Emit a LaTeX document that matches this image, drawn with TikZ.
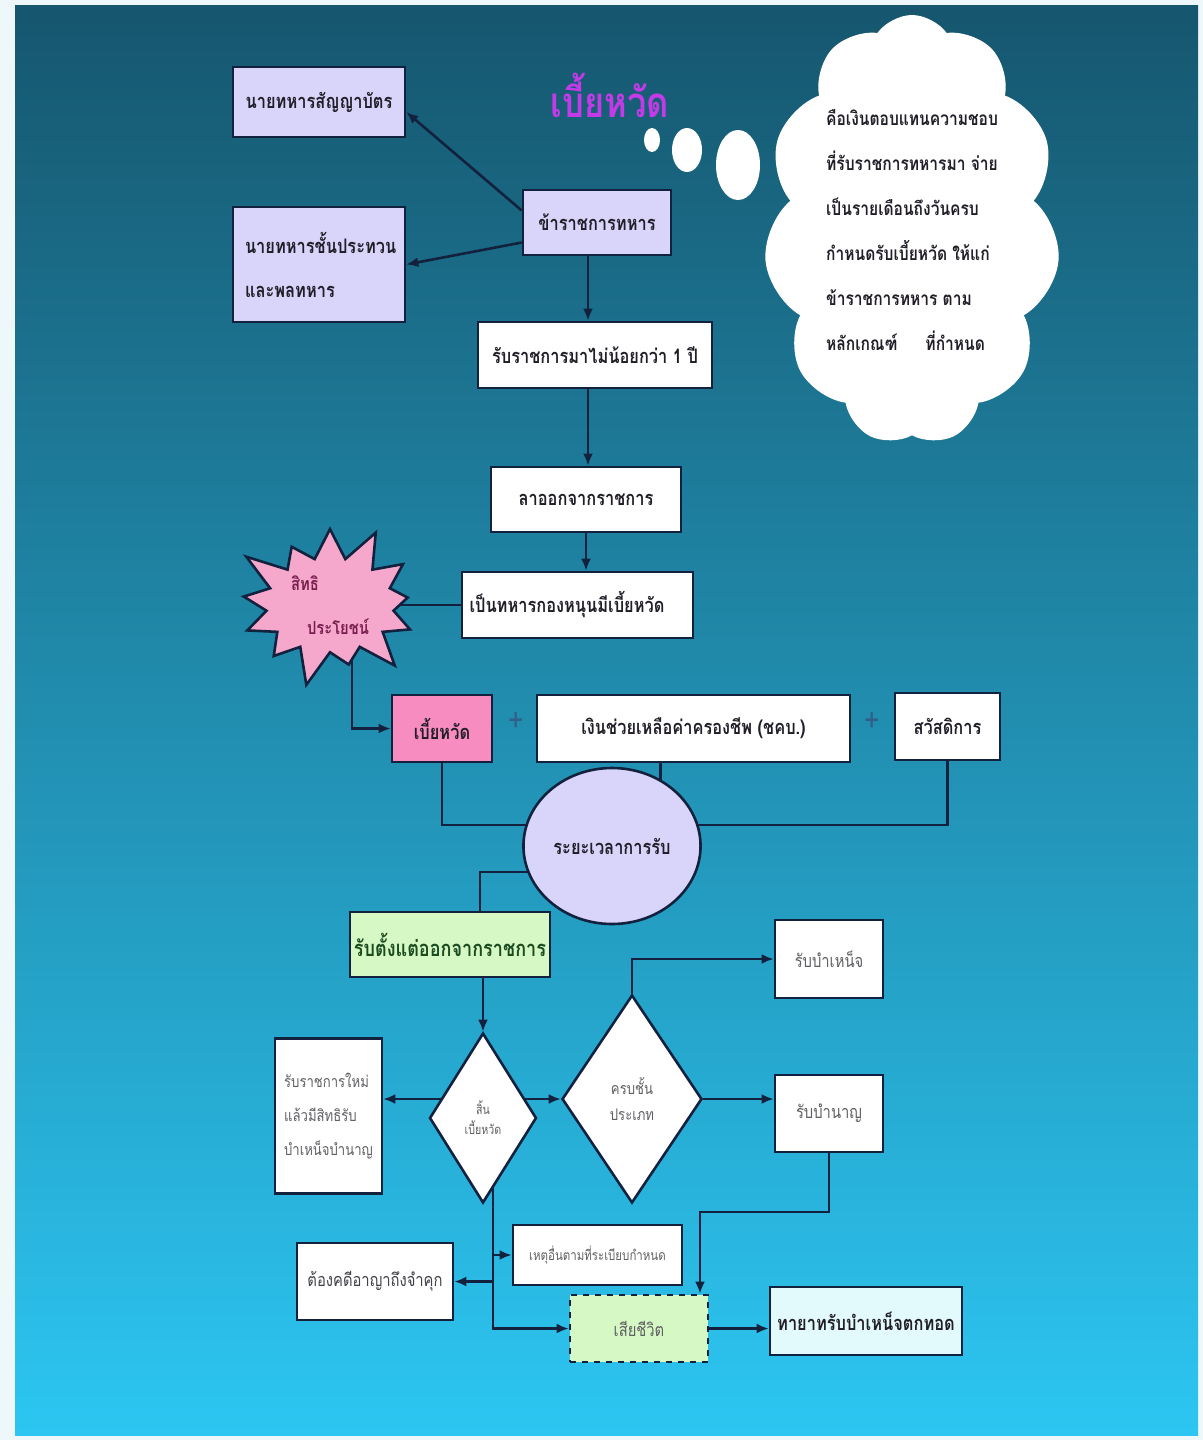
\documentclass[tikz,border=0pt]{standalone}
\usepackage{fontspec}
\setmainfont[Script=Thai,FakeStretch=0.82]{Loma}
\usetikzlibrary{shapes.geometric,shapes.symbols,arrows.meta}
\definecolor{paper}{RGB}{238,248,250}
\definecolor{seadark}{RGB}{22,86,110}
\definecolor{seamid}{RGB}{32,150,192}
\definecolor{sealight}{RGB}{44,198,242}
\definecolor{edgenavy}{RGB}{18,34,62}
\definecolor{lavfill}{RGB}{216,212,250}
\definecolor{pinkfill}{RGB}{246,140,192}
\definecolor{burstpink}{RGB}{246,168,204}
\definecolor{greenfill}{RGB}{214,248,196}
\definecolor{cyanfill}{RGB}{226,250,252}
\definecolor{titlemag}{RGB}{196,58,232}
\definecolor{inkdark}{RGB}{34,30,40}
\definecolor{inkgrey}{RGB}{96,96,100}
\definecolor{burstink}{RGB}{120,30,80}
\definecolor{plusblue}{RGB}{50,95,135}
\pgfdeclarelayer{back}
\pgfdeclarelayer{wire}
\pgfsetlayers{back,wire,main}
\begin{document}
\begin{tikzpicture}[x=0.5pt,y=-0.5pt]
  \tikzstyle{every node}=[font=\bfseries\fontsize{10}{12}\selectfont,text=inkdark,inner sep=2pt]
  \tikzstyle{plainbox}=[rectangle,draw=edgenavy,line width=1.3pt,fill=white]
  \tikzstyle{lavbox}=[plainbox,fill=lavfill]
  \tikzstyle{greybox}=[plainbox,text=inkgrey,font=\fontsize{9}{11}\selectfont]
  \tikzstyle{choice}=[diamond,draw=edgenavy,line width=1.3pt,fill=white,text=inkgrey,font=\fontsize{6.5}{10}\selectfont,align=center,inner sep=0pt]
  \tikzstyle{link}=[draw=edgenavy,line width=1.3pt]
  \tikzstyle{arr}=[link,-{Latex[length=6pt,width=5pt]}]
  \useasboundingbox (0,0) rectangle (1203,1440);
  \begin{pgfonlayer}{back}
    \fill[paper] (0,0) rectangle (1203,1440);
    \shade[top color=seadark,middle color=seamid,bottom color=sealight] (15,5) rectangle (1198,1435);
  \end{pgfonlayer}

  % top part
  \node[text=titlemag,font=\bfseries\fontsize{21}{24}\selectfont] (title) at (610,95) {เบี้ยหวัด};
  \fill[white] (652,140) ellipse [x radius=4pt, y radius=6pt];
  \fill[white] (687,150) ellipse [x radius=7.5pt, y radius=11pt];
  \fill[white] (738,165) ellipse [x radius=11pt, y radius=17.5pt];
  \node[cloud,cloud puffs=11,cloud puff arc=110,cloud ignores aspect,fill=white,minimum width=148pt,minimum height=215pt,align=left,font=\bfseries\fontsize{9.5}{22.5}\selectfont,text=inkdark] (cloud) at (912,230)
    {คือเงินตอบแทนความชอบ\\ที่รับราชการทหารมา จ่าย\\เป็นรายเดือนถึงวันครบ\\กำหนดรับเบี้ยหวัด ให้แก่\\ข้าราชการทหาร ตาม\\หลักเกณฑ์\hspace{14pt}ที่กำหนด};

  \node[lavbox,minimum width=86pt,minimum height=35pt] (officer) at (319,102) {นายทหารสัญญาบัตร};
  \node[lavbox,minimum width=86pt,minimum height=57.5pt,text width=74pt,align=left,font=\bfseries\fontsize{10}{22}\selectfont] (ncos) at (319,264.5) {นายทหารชั้นประทวน\\และพลทหาร};
  \node[lavbox,minimum width=74pt,minimum height=32.5pt] (clerk) at (597,222.5) {ข้าราชการทหาร};
  \node[plainbox,minimum width=117pt,minimum height=33pt] (serve) at (595,355) {รับราชการมาไม่น้อยกว่า 1 ปี};
  \node[plainbox,minimum width=95pt,minimum height=32.5pt] (resign) at (586,499.5) {ลาออกจากราชการ};
  \node[plainbox,minimum width=115.5pt,minimum height=33pt,text width=108pt,align=left] (hold) at (577.5,605) {เป็นทหารกองหนุนมีเบี้ยหวัด};
  \node[starburst,starburst points=13,starburst point height=20pt,fill=burstpink,draw=edgenavy,line width=1.3pt,minimum width=104pt,minimum height=70pt,align=left,text=burstink,font=\bfseries\fontsize{9}{22}\selectfont] (burst) at (330,605) {สิทธิ\\\hspace*{8pt}ประโยชน์};

  % income row
  \node[plainbox,fill=pinkfill,minimum width=50pt,minimum height=33.5pt] (pay) at (442,728.5) {เบี้ยหวัด};
  \node[text=plusblue,font=\fontsize{16}{16}\selectfont] (plusa) at (516,722) {+};
  \node[plainbox,minimum width=156.5pt,minimum height=33.5pt] (allow) at (693.5,728.5) {เงินช่วยเหลือค่าครองชีพ (ชคบ.)};
  \node[text=plusblue,font=\fontsize{16}{16}\selectfont] (plusb) at (872,722) {+};
  \node[plainbox,minimum width=52.5pt,minimum height=33.5pt] (perk) at (947.5,726.5) {สวัสดิการ};
  \node[ellipse,draw=edgenavy,line width=1.3pt,fill=lavfill,minimum width=85pt,minimum height=78pt] (period) at (612,846) {ระยะเวลาการรับ};

  % lower part
  \node[plainbox,fill=greenfill,minimum width=100pt,minimum height=32.5pt,font=\bfseries\fontsize{11}{13}\selectfont,text=inkdark!80!green] (start) at (450,944.5) {รับตั้งแต่ออกจากราชการ};
  \node[choice,minimum width=53.5pt,minimum height=85pt] (d1) at (483,1118) {สิ้น\\เบี้ยหวัด};
  \node[choice,minimum width=70pt,minimum height=104pt,font=\fontsize{8}{13}\selectfont] (d2) at (632,1099) {ครบชั้น\\ประเภท};
  \node[greybox,minimum width=53.5pt,minimum height=77.5pt,align=left,font=\fontsize{8}{17}\selectfont] (again) at (328.5,1116) {รับราชการใหม่\\แล้วมีสิทธิรับ\\บำเหน็จบำนาญ};
  \node[greybox,minimum width=54pt,minimum height=39pt] (grat) at (829,959) {รับบำเหน็จ};
  \node[greybox,minimum width=54pt,minimum height=38.5pt] (pension) at (829,1113.5) {รับบำนาญ};
  \node[greybox,minimum width=84.5pt,minimum height=30pt,font=\fontsize{7}{9}\selectfont] (other) at (597.5,1255) {เหตุอื่นตามที่ระเบียบกำหนด};
  \node[greybox,minimum width=78pt,minimum height=38.5pt,text=inkdark!85] (crime) at (375,1281.5) {ต้องคดีอาญาถึงจำคุก};
  \node[greybox,fill=greenfill,dashed,minimum width=69pt,minimum height=33.5pt] (death) at (639,1328.5) {เสียชีวิต};
  \node[plainbox,fill=cyanfill,minimum width=96pt,minimum height=34pt] (heir) at (866,1321) {ทายาทรับบำเหน็จตกทอด};

  \coordinate (jp) at (700,1212);
  \coordinate (jd) at (493,1150);
  \coordinate (jc) at (588,300);

  \begin{pgfonlayer}{wire}
    \draw[arr] ([yshift=6pt]clerk.west) -- ([yshift=-5pt]officer.east);
    \draw[arr] ([yshift=-10pt]clerk.west) -- (ncos.east);
    \draw[arr] (jc |- clerk.south) -- (jc |- serve.north);
    \draw[arr] (jc |- serve.south) -- (jc |- resign.north);
    \draw[arr] (resign.south) -- (resign.south |- hold.north);
    \draw[link] (hold.west) -- (burst.center);
    \draw[arr] ([xshift=11pt]burst.center) |- (pay.west);
    \draw[link] (pay.south) |- ([yshift=10.5pt]period.center);
    \draw[link] (perk.south) |- ([yshift=10.5pt]period.center);
    \draw[link] ([xshift=-16.5pt]allow.south) |- (period.center);
    \draw[link] ([yshift=-13pt]period.center) -| ([xshift=15pt]start.north);
    \draw[arr] (start.south -| d1.north) -- (d1.north);
    \draw[arr] (d1.center |- d2.west) -- (again.east |- d2.west);
    \draw[arr] (d1.center |- d2.west) -- (d2.west);
    \draw[arr] (d2.north) |- (grat.west);
    \draw[arr] (d2.east) -- (d2.east -| pension.west);
    \draw[arr] (pension.south) |- (jp) -- (jp |- death.north);
    \draw[arr] (jd) |- (death.west);
    \draw[arr] (jd |- other.west) -- (other.west);
    \draw[arr] (jd |- crime.east) -- (crime.east);
    \draw[arr] (death.east) -- (death.east -| heir.west);
  \end{pgfonlayer}
\end{tikzpicture}
\end{document}
